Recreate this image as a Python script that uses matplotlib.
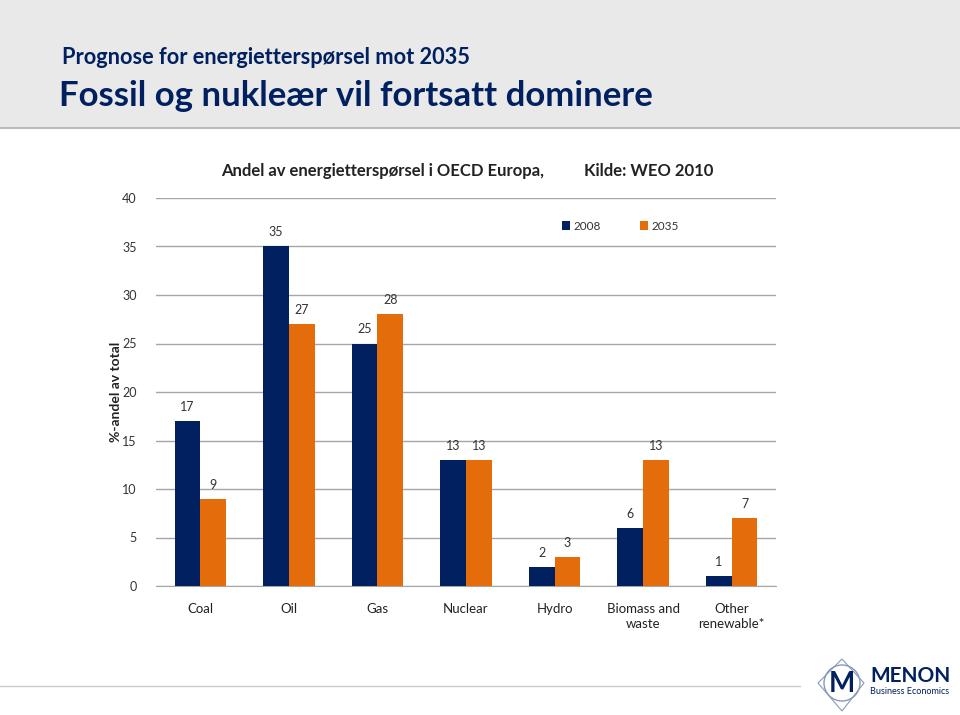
import matplotlib
matplotlib.use("Agg")
import matplotlib.pyplot as plt
from matplotlib.patches import Rectangle, Circle, Polygon
import numpy as np

categories = ["Coal", "Oil", "Gas", "Nuclear", "Hydro", "Biomass and\nwaste", "Other\nrenewable*"]
v2008 = [17, 35, 25, 13, 2, 6, 1]
v2035 = [9, 27, 28, 13, 3, 13, 7]
series_names = ["2008", "2035"]
yticks = [0, 5, 10, 15, 20, 25, 30, 35, 40]

NAVY = "#002060"
ORANGE = "#E46C0A"
FONT = ["Lato", "DejaVu Sans"]
plt.rcParams['font.family'] = FONT

W, H = 960, 715
fig = plt.figure(figsize=(9.6, 7.15), dpi=100)

def fx(px): return px / W
def fy(py): return 1 - py / H

# header band
fig.patches.append(Rectangle((0, fy(128)), 1, 128 / H, transform=fig.transFigure,
                             facecolor="#E9E9E9", edgecolor="none", zorder=0))
fig.add_artist(plt.Line2D([0, 1], [fy(128), fy(128)], color="#BBBBBB", lw=1.5,
                          transform=fig.transFigure))
fig.text(fx(62), fy(58), "Prognose for energietterspørsel mot 2035", fontsize=15.7,
         fontweight="bold", color=NAVY, va="center", ha="left")
fig.text(fx(59), fy(96), "Fossil og nukleær vil fortsatt dominere", fontsize=25,
         fontweight="bold", color=NAVY, va="center", ha="left")

# bottom line
fig.add_artist(plt.Line2D([0, fx(800)], [fy(686), fy(686)], color="#CCCCCC", lw=1,
                          transform=fig.transFigure))

ax = fig.add_axes([fx(156), fy(586), fx(776) - fx(156), (586 - 198) / H])
x = np.arange(len(categories))
bw = 0.29
b1 = ax.bar(x - bw / 2, v2008, bw, color=NAVY, label=series_names[0], zorder=3)
b2 = ax.bar(x + bw / 2, v2035, bw, color=ORANGE, label=series_names[1], zorder=3)
for bars, vals in ((b1, v2008), (b2, v2035)):
    for r, v in zip(bars, vals):
        ax.text(r.get_x() + r.get_width() / 2, v + 1.45, str(v), ha="center", va="center",
                fontsize=9, color="#333333")

ax.set_xlim(-0.5, len(categories) - 0.5)
ax.set_ylim(0, 40)
ax.set_yticks(yticks)
ax.yaxis.grid(True, color="#A6A6A6", lw=1, zorder=0)
ax.set_axisbelow(True)
for s in ["top", "right", "left"]:
    ax.spines[s].set_visible(False)
ax.spines["bottom"].set_color("#A6A6A6")
ax.tick_params(axis="y", length=0, labelsize=9, colors="#333333", pad=14)
ax.tick_params(axis="x", length=0, labelsize=9.5, colors="#222222", pad=12)
ax.set_xticks(x)
ax.set_xticklabels(categories, linespacing=1.3)
ax.set_ylabel("%-andel av total", fontsize=10, fontweight="bold", color="#222222", labelpad=0)

fig.text(fx(467), fy(171), "Andel av energietterspørsel i OECD Europa,          Kilde: WEO 2010",
         fontsize=12, fontweight="bold", color="#222222", ha="center", va="center")

leg = ax.legend(loc="upper left", bbox_to_anchor=((557 - 156) / 620, (586 - 216) / 388),
                ncol=2, frameon=False, fontsize=8.5, handlelength=0.7, handleheight=0.7,
                columnspacing=3.3, handletextpad=0.3, borderaxespad=0)
for t in leg.get_texts():
    t.set_color("#333333")

# logo
lax = fig.add_axes([fx(812), fy(713), fx(150), 60 / H])
lax.set_xlim(0, 150)
lax.set_ylim(0, 60)
lax.axis("off")
lax.add_patch(Circle((30, 30), 18, fill=False, ec="#8899BB", lw=1))
lax.add_patch(Polygon([[6, 30], [30, 54], [52, 30], [30, 2]], closed=True, fill=False, ec="#8899BB", lw=0.8))
lax.text(30, 29, "M", fontsize=20, fontweight="bold", color=NAVY, ha="center", va="center")
lax.text(58, 37, "MENON", fontsize=15, fontweight="bold", color=NAVY, ha="left", va="center")
lax.text(58, 21, "Business Economics", fontsize=6.5, color=NAVY, ha="left", va="center")

fig.savefig("out.png", dpi=100)
